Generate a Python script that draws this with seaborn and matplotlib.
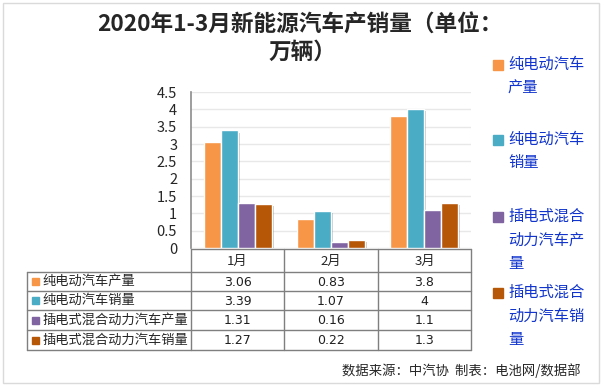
import pandas as pd
import seaborn as sns
import matplotlib.pyplot as plt
from matplotlib.patches import Rectangle
from matplotlib import patheffects as pe

months = ["1月", "2月", "3月"]
series = ["纯电动汽车产量", "纯电动汽车销量", "插电式混合动力汽车产量", "插电式混合动力汽车销量"]
ev_prod = [3.06, 0.83, 3.8]
ev_sales = [3.39, 1.07, 4]
phev_prod = [1.31, 0.16, 1.1]
phev_sales = [1.27, 0.22, 1.3]
legend_labels = ["纯电动汽车\n产量", "纯电动汽车\n销量", "插电式混合\n动力汽车产\n量", "插电式混合\n动力汽车销\n量"]
colors = ["#F79646", "#4BACC6", "#8064A2", "#B65708"]

values = [ev_prod, ev_sales, phev_prod, phev_sales]
df = pd.DataFrame([(m, s, v) for s, vals in zip(series, values) for m, v in zip(months, vals)],
                  columns=["month", "series", "value"])

sns.set_style("white")
plt.rcParams["font.family"] = ["Noto Sans CJK SC", "DejaVu Sans"]

W, H = 604, 389
fig = plt.figure(figsize=(W / 100, H / 100), dpi=100)

# overlay in pixel coords for frame, table, legend
bg = fig.add_axes([0, 0, 1, 1])
bg.set_xlim(0, W)
bg.set_ylim(H, 0)
bg.axis("off")
bg.patch.set_visible(False)

# plot area: x 191..471, y 92 (4.5) .. 248 (0)
x0, x1, ytop, ybot = 191, 471, 92, 248
ax = fig.add_axes([x0 / W, (H - ybot) / H, (x1 - x0) / W, (ybot - ytop) / H])
sns.barplot(data=df, x="month", y="value", hue="series", palette=colors,
            width=0.73, saturation=1, ax=ax, legend=False)
for p in ax.patches:
    p.set_path_effects([pe.SimplePatchShadow(offset=(1.5, -1.5), alpha=0.25), pe.Normal()])
ax.set_ylim(0, 4.5)
ax.set_xlim(-0.5, 2.5)
ax.set_yticks([i * 0.5 for i in range(10)])
ax.set_yticklabels(["0", "0.5", "1", "1.5", "2", "2.5", "3", "3.5", "4", "4.5"], fontsize=10.5)
ax.tick_params(axis="y", length=0, pad=10)
ax.set_xticks([])
ax.set_xlabel("")
ax.set_ylabel("")
ax.grid(axis="y", color="#E8E8E8", linewidth=1)
ax.set_axisbelow(True)
for s in ["top", "right", "bottom"]:
    ax.spines[s].set_visible(False)
ax.spines["left"].set_color("#8C8C8C")
ax.spines["left"].set_linewidth(1.2)

# outer frame
bg.add_patch(Rectangle((3, 3), 596, 380, fill=False, edgecolor="#DADADA", linewidth=1))

# title
bg.text(300, 25, "2020年1-3月新能源汽车产销量（单位：", ha="center", va="center",
        fontsize=16.3, fontweight="bold")
bg.text(302, 52, "万辆）", ha="center", va="center", fontsize=16.3, fontweight="bold")

# data table
lc = "#7F7F7F"
tl = 27
cols = [191, 284, 378, 471]
rows = [249, 272, 291, 310, 330, 350]
bg.plot([cols[0], cols[-1]], [rows[0], rows[0]], color=lc, lw=1)
for r in rows[1:]:
    bg.plot([tl, cols[-1]], [r, r], color=lc, lw=1)
bg.plot([tl, tl], [rows[1], rows[-1]], color=lc, lw=1)
for c in cols:
    bg.plot([c, c], [rows[0], rows[-1]], color=lc, lw=1)
for j, m in enumerate(months):
    bg.text((cols[j] + cols[j + 1]) / 2, (rows[0] + rows[1]) / 2 + 1, m,
            ha="center", va="center", fontsize=9.5)
for i, (s, vals) in enumerate(zip(series, values)):
    yc = (rows[i + 1] + rows[i + 2]) / 2
    bg.add_patch(Rectangle((32, yc - 3.5), 7, 7, color=colors[i]))
    bg.text(42, yc, s, ha="left", va="center", fontsize=9.5)
    for j, v in enumerate(vals):
        bg.text((cols[j] + cols[j + 1]) / 2, yc + 1, f"{v:g}", ha="center", va="center",
                fontsize=9, family=["DejaVu Sans"], color="#202020")

# legend
leg_y = [65, 140, 217, 293]
for i, lab in enumerate(legend_labels):
    bg.add_patch(Rectangle((493, leg_y[i] - 5), 10, 10, color=colors[i]))
    bg.text(508, leg_y[i] - 9, lab, ha="left", va="top", fontsize=11,
            color="#1034CC", linespacing=1.5)

# footer
bg.text(581, 371, "数据来源：中汽协  制表：电池网/数据部", ha="right", va="center", fontsize=9.6)

fig.savefig("out.png", dpi=100)
